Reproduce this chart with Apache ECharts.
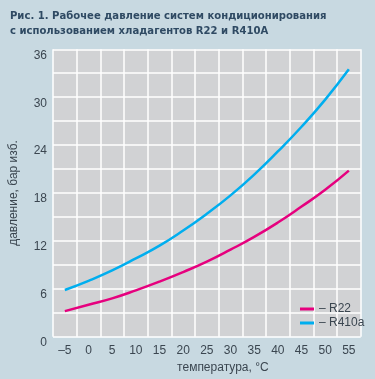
<!DOCTYPE html>
<html>
<head>
<meta charset="utf-8">
<script src="https://cdn.jsdelivr.net/npm/echarts@6/dist/echarts.min.js"></script>
<style>
  html, body { margin: 0; padding: 0; background: #c8d9e1; }
  #main { width: 375px; height: 379px; }
</style>
</head>
<body>
<div id="main"></div>
<script>
// temperature, °C
const temps = [-5, 0, 5, 10, 15, 20, 25, 30, 35, 40, 45, 50, 55]
// pressure, bar (gauge)
const r22 = [3.2, 4.0, 4.8, 5.8, 6.9, 8.1, 9.4, 10.9, 12.5, 14.3, 16.3, 18.4, 20.8]
const r410a = [5.85, 7.0, 8.3, 9.8, 11.4, 13.3, 15.4, 17.7, 20.3, 23.2, 26.3, 29.7, 33.5]

const labelFont = "'Liberation Sans Narrow', 'Liberation Sans', sans-serif"
const textColor = '#3b4650'

const chart = echarts.init(document.getElementById('main'))

const toPairs = (vals) => temps.map((t, i) => [t, vals[i]])

const option = {
  backgroundColor: '#c8d9e1',
  animation: false,
  title: {
    text: 'Рис. 1. Рабочее давление систем кондиционирования\nс использованием хладагентов R22 и R410A',
    left: 5,
    top: 4,
    textStyle: {
      fontFamily: "'DejaVu Sans Condensed', 'DejaVu Sans', sans-serif",
      fontWeight: 'bold',
      fontSize: 11.2,
      lineHeight: 15,
      color: '#2f4a63'
    }
  },
  legend: {
    orient: 'vertical',
    left: 300,
    top: 303,
    padding: 0,
    icon: 'rect',
    itemWidth: 14,
    itemHeight: 3,
    itemGap: 2,
    formatter: (name) => '– ' + name,
    textStyle: {
      fontFamily: labelFont,
      fontSize: 12,
      lineHeight: 12,
      color: textColor
    },
    data: ['R22', 'R410a']
  },
  grid: {
    left: 44.3,
    top: 49.3,
    right: 14.3,
    bottom: 42.3,
    show: true,
    backgroundColor: '#d1d2d4',
    borderWidth: 0
  },
  xAxis: {
    type: 'value',
    min: -7.5,
    max: 57.5,
    interval: 2.5,
    name: 'температура, °C',
    nameLocation: 'middle',
    nameGap: 24,
    nameTextStyle: {
      fontFamily: labelFont,
      fontSize: 12,
      color: textColor,
      padding: [0, 0, 0, 32]
    },
    axisLine: { show: false },
    axisTick: { show: false },
    axisLabel: {
      margin: 8,
      fontFamily: labelFont,
      fontSize: 12,
      color: textColor,
      formatter: (v) => (v % 5 === 0 ? (v < 0 ? '–' + Math.abs(v) : String(v)) : '')
    },
    splitLine: {
      show: true,
      lineStyle: { color: ['#ffffff', 'rgba(0,0,0,0)'], width: 1.5 }
    }
  },
  yAxis: {
    type: 'value',
    min: 0,
    max: 36,
    interval: 3,
    name: 'давление, бар изб.',
    nameLocation: 'middle',
    nameGap: 33,
    nameTextStyle: {
      fontFamily: labelFont,
      fontSize: 12,
      color: textColor
    },
    axisLine: { show: false },
    axisTick: { show: false },
    axisLabel: {
      margin: 6,
      fontFamily: labelFont,
      fontSize: 12,
      color: textColor,
      verticalAlign: 'top',
      formatter: (v) => (v % 6 === 0 ? String(v) : '')
    },
    splitLine: {
      show: true,
      lineStyle: { color: '#ffffff', width: 1.5 }
    }
  },
  series: [
    {
      name: 'R22',
      type: 'line',
      smooth: true,
      showSymbol: false,
      lineStyle: { color: '#e6007e', width: 2.5 },
      itemStyle: { color: '#e6007e' },
      data: toPairs(r22)
    },
    {
      name: 'R410a',
      type: 'line',
      smooth: true,
      showSymbol: false,
      lineStyle: { color: '#00aeef', width: 2.5 },
      itemStyle: { color: '#00aeef' },
      data: toPairs(r410a)
    }
  ]
}

chart.setOption(option)
</script>
</body>
</html>
